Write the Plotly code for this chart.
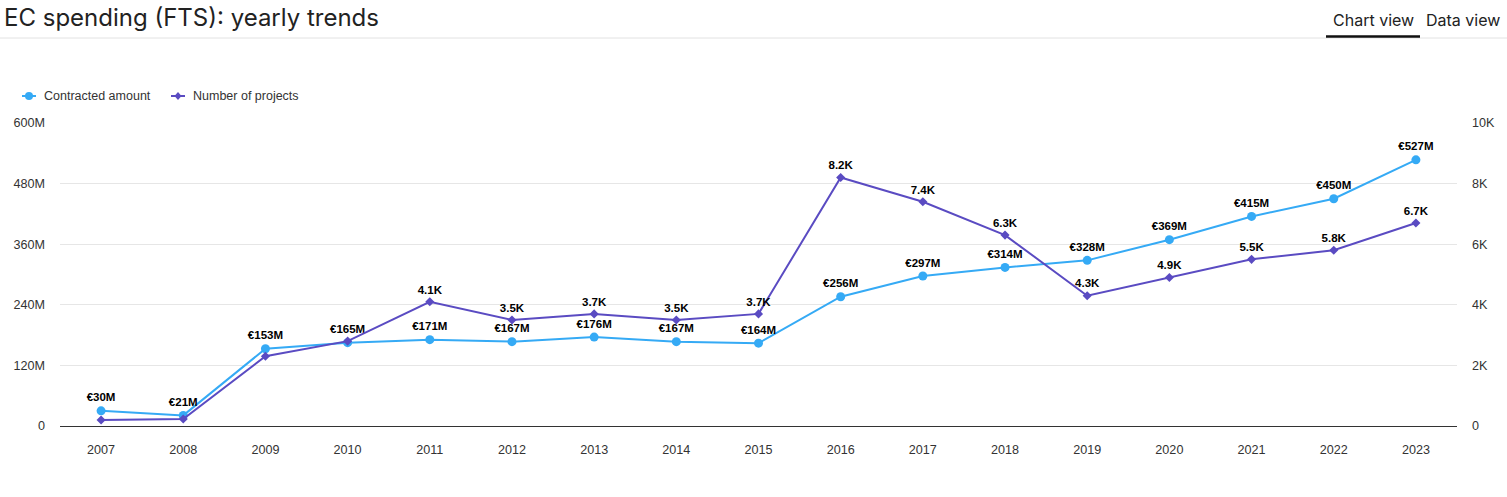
import plotly.graph_objects as go

years = [str(y) for y in range(2007, 2024)]
amount_m = [30, 21, 153, 165, 171, 167, 176, 167, 164, 256, 297, 314, 328, 369, 415, 450, 527]
projects_k = [0.2, 0.23, 2.3, 2.8, 4.1, 3.5, 3.7, 3.5, 3.7, 8.2, 7.4, 6.3, 4.3, 4.9, 5.5, 5.8, 6.7]
show_proj_label = [False, False, False, False] + [True] * 13

left_ticks = [0, 120, 240, 360, 480, 600]
left_ticktext = ["0", "120M", "240M", "360M", "480M", "600M"]
right_ticks = [0, 2, 4, 6, 8, 10]
right_ticktext = ["0", "2K", "4K", "6K", "8K", "10K"]

series_names = ["Contracted amount", "Number of projects"]

W, H = 1507, 497
L, R, T, B = 60, 50, 123, 71
pw, ph = W - L - R, H - T - B

def px(x):
    return (x - L) / pw

def py(y):
    return (H - B - y) / ph

BLUE = "#35aaf5"
PURPLE = "#5a4bc2"
LABEL_FONT = dict(family="Liberation Sans", size=11.5, color="#000", weight="bold")
TICK_FONT = dict(family="Liberation Sans", size=12.6, color="#333")

fig = go.Figure()
fig.add_trace(go.Scatter(
    x=years, y=amount_m, name=series_names[0], mode="lines+markers+text",
    line=dict(color=BLUE, width=2), marker=dict(color=BLUE, size=9, symbol="circle"),
    text=[f"€{v}M" for v in amount_m], textposition="top center",
    textfont=LABEL_FONT, yaxis="y", cliponaxis=False, showlegend=False,
))
fig.add_trace(go.Scatter(
    x=years, y=projects_k, name=series_names[1], mode="lines+markers+text",
    line=dict(color=PURPLE, width=2), marker=dict(color=PURPLE, size=7, symbol="diamond"),
    text=[(f"{v}K" if s else "") for v, s in zip(projects_k, show_proj_label)],
    textposition="top center",
    textfont=LABEL_FONT, yaxis="y2", cliponaxis=False, showlegend=False,
))

fig.update_layout(
    width=W, height=H, margin=dict(l=L, r=R, t=T, b=B),
    plot_bgcolor="white", paper_bgcolor="white",
    font=dict(family="Liberation Sans", size=12, color="#333"),
    xaxis=dict(type="category", range=[-0.5, 16.5], showgrid=False, showline=True,
               linecolor="#333", linewidth=1, ticks="", ticklabelstandoff=12,
               tickfont=TICK_FONT, fixedrange=True),
    yaxis=dict(range=[0, 600], tickvals=left_ticks, ticktext=left_ticktext,
               showgrid=True, gridcolor="#e6e6e6", zeroline=False, ticks="",
               tickfont=TICK_FONT, ticklabelstandoff=14),
    yaxis2=dict(range=[0, 10], tickvals=right_ticks, ticktext=right_ticktext,
                overlaying="y", side="right", showgrid=False, zeroline=False, ticks="",
                tickfont=TICK_FONT, ticklabelstandoff=14),
    hovermode="x unified",
)

# custom legend
leg_y = py(96)
legend_items = [(series_names[0], BLUE, "circle", 22), (series_names[1], PURPLE, "diamond", 171)]
for name, col, sym, x0 in legend_items:
    fig.add_shape(type="line", xref="paper", yref="paper", x0=px(x0), x1=px(x0 + 14),
                  y0=leg_y, y1=leg_y, line=dict(color=col, width=2))
    cx = x0 + 7
    if sym == "circle":
        fig.add_shape(type="circle", xref="paper", yref="paper",
                      x0=px(cx - 4), x1=px(cx + 4), y0=py(96 - 4), y1=py(96 + 4),
                      fillcolor=col, line=dict(width=0))
    else:
        fig.add_shape(type="path", xref="paper", yref="paper",
                      path=(f"M {px(cx)} {py(92)} L {px(cx + 3.5)} {py(96)} "
                            f"L {px(cx)} {py(100)} L {px(cx - 3.5)} {py(96)} Z"),
                      fillcolor=col, line=dict(width=0))
    fig.add_annotation(text=name, xref="paper", yref="paper", x=px(x0 + 20), y=leg_y,
                       xanchor="left", yanchor="middle", showarrow=False,
                       font=dict(family="Liberation Sans", size=12.5, color="#333"))

fig.add_annotation(text="EC spending (FTS): yearly trends", xref="paper", yref="paper",
                   x=px(2), y=py(18), xanchor="left", yanchor="middle", showarrow=False,
                   font=dict(family="Inter", size=24, color="#222"))
fig.add_annotation(text="Chart view", xref="paper", yref="paper",
                   x=px(1373), y=py(20), xanchor="center", yanchor="middle", showarrow=False,
                   font=dict(family="Inter", size=16, color="#222"))
fig.add_annotation(text="Data view", xref="paper", yref="paper",
                   x=px(1463), y=py(20), xanchor="center", yanchor="middle", showarrow=False,
                   font=dict(family="Inter", size=16, color="#222"))
fig.add_shape(type="line", xref="paper", yref="paper", x0=px(0), x1=px(W), y0=py(38), y1=py(38),
              line=dict(color="#e2e2e2", width=1))
fig.add_shape(type="line", xref="paper", yref="paper", x0=px(1326), x1=px(1420), y0=py(36.5), y1=py(36.5),
              line=dict(color="#111", width=2.5))

fig.write_html("out.html", config={"displayModeBar": False},
               post_script="document.body.style.margin='0';")
